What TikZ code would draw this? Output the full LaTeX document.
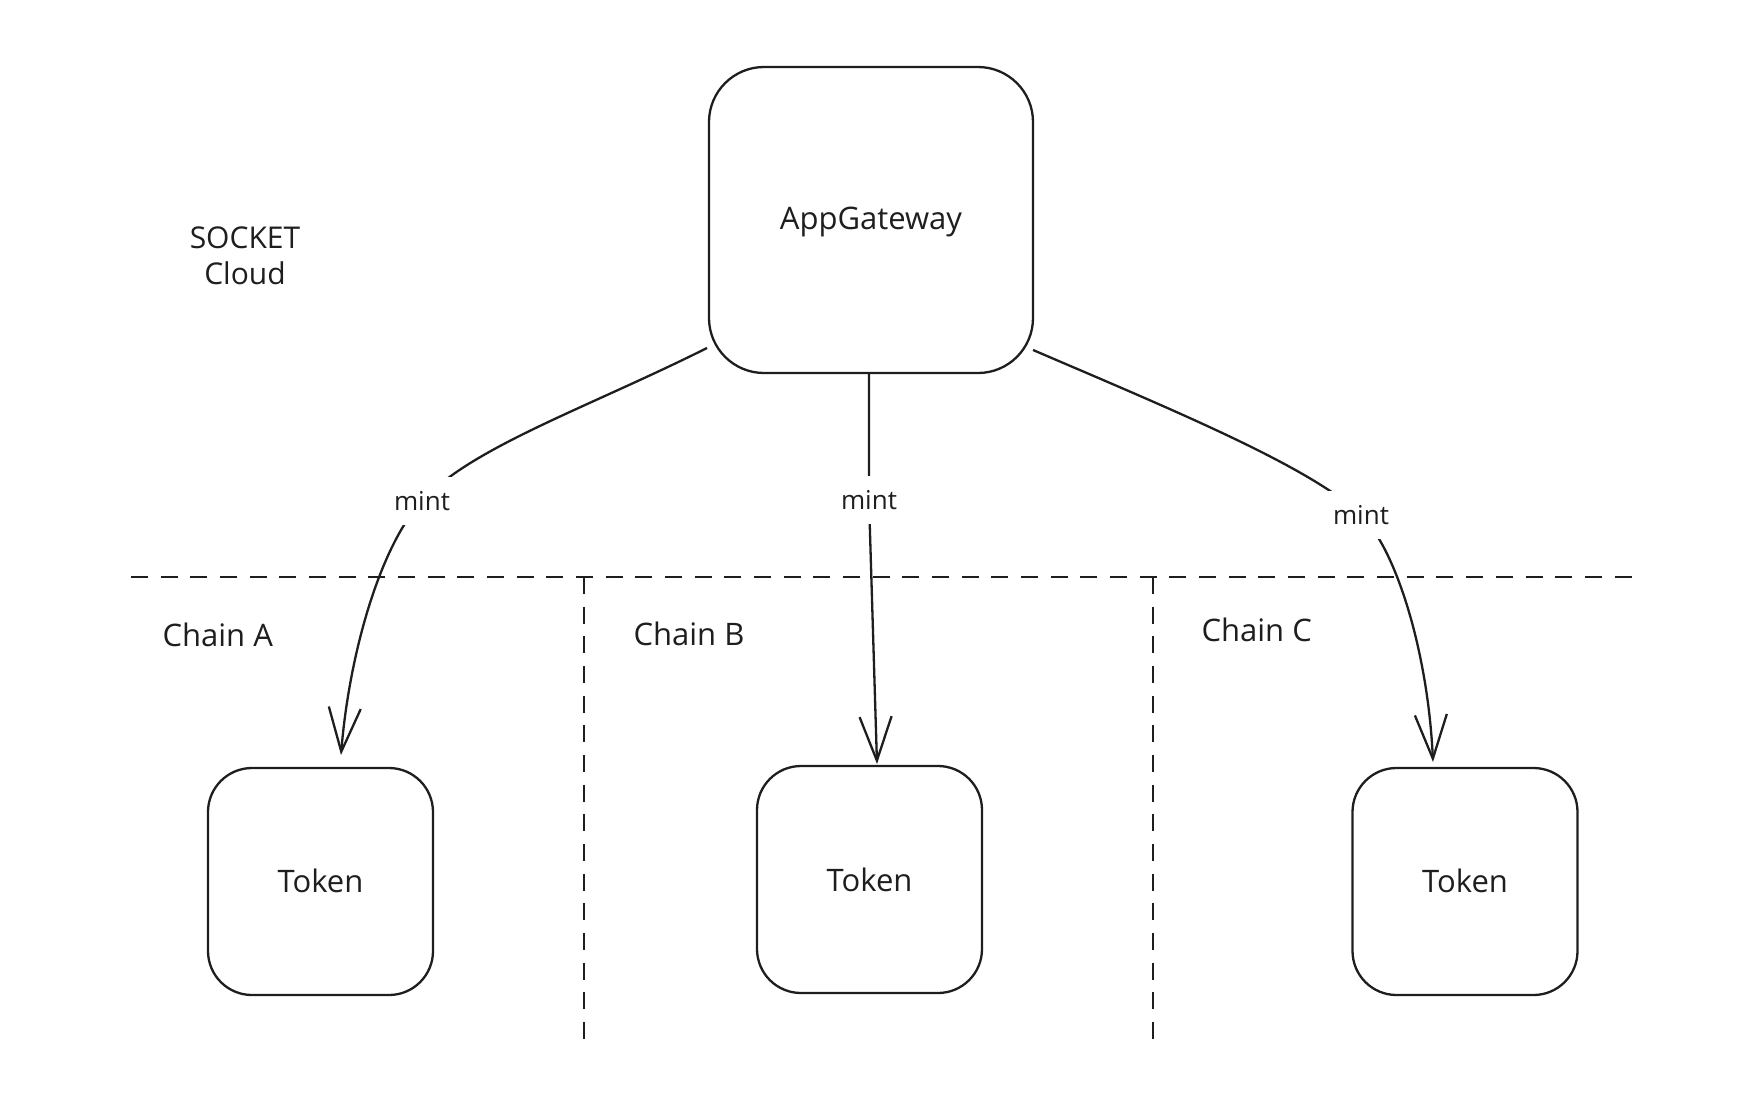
\documentclass[tikz,border=0pt]{standalone}
\usepackage{fontspec}
\setmainfont{Open Sans}
\usetikzlibrary{arrows.meta,calc}
\definecolor{ink}{HTML}{1E1E1E}
\tikzset{
  box/.style={draw=ink,line width=2.3pt,rounded corners=#1,inner sep=0pt},
  lbl/.style={text=ink,font=\fontsize{31}{36}\selectfont},
  mintlbl/.style={text=ink,font=\fontsize{26}{30}\selectfont,fill=white,inner xsep=6pt,inner ysep=14pt},
  conn/.style={draw=ink,line width=2.3pt,-{Straight Barb[length=44pt,width=32pt,line width=2.3pt]}},
  sep/.style={draw=ink,line width=2.6pt,dash pattern=on 17pt off 12.67pt}
}
\begin{document}
\begin{tikzpicture}[x=1pt,y=-1pt]
\useasboundingbox (0,0) rectangle (1742,1100);
% boxes
\node[box=55pt,minimum width=324pt,minimum height=306pt] (ag) at (871,220) {};
\node[lbl] (agt) at (871,222) {AppGateway};
\node[box=44pt,minimum width=225pt,minimum height=227pt] (tA) at (320.5,881.5) {};
\node[lbl] (tAt) at (320.5,881) {Token};
\node[box=44pt,minimum width=225pt,minimum height=227pt] (tB) at (869.5,879.5) {};
\node[lbl] (tBt) at (869.5,880) {Token};
\node[box=44pt,minimum width=225pt,minimum height=227pt] (tC) at (1465,881.5) {};
\node[lbl] (tCt) at (1465,881) {Token};
% free texts
\node[lbl,align=center,font=\fontsize{30}{36}\selectfont] (sock) at (245,256) {SOCKET\\Cloud};
\node[lbl,anchor=west] (chA) at (159,635) {Chain A};
\node[lbl,anchor=west] (chB) at (630,634) {Chain B};
\node[lbl,anchor=west] (chC) at (1198,630) {Chain C};
% separators
\coordinate (hL) at (131,577);
\coordinate (hR) at (1639,577);
\coordinate (v1t) at (584,577);
\coordinate (v1b) at (584,1039);
\coordinate (v2t) at (1153,577);
\coordinate (v2b) at (1153,1039);
\draw[sep] (hL) -- (hR);
\draw[sep] (v1t) -- (v1b);
\draw[sep] (v2t) -- (v2b);
% connector end points
\coordinate (sA) at (707,348);
\coordinate (mA) at (422,501);
\coordinate (eA) at (341,755);
\coordinate (sB) at (869,374);
\coordinate (mB) at (869,500);
\coordinate (eB) at (877,764);
\coordinate (sC) at (1033,350);
\coordinate (mC) at (1361,515);
\coordinate (eC) at (1433,762);
\draw[conn] (sA) .. controls (587,408) and (472,447) .. (mA)
             .. controls (380,546) and (349,655) .. (eA);
\draw[conn] (sB) -- (mB) -- (eB);
\draw[conn] (sC) .. controls (1173,410) and (1311,467) .. (mC)
             .. controls (1396,549) and (1428,652) .. (eC);
\node[mintlbl] (lA) at (mA) {mint};
\node[mintlbl] (lB) at (mB) {mint};
\node[mintlbl] (lC) at (mC) {mint};
\end{tikzpicture}
\end{document}
